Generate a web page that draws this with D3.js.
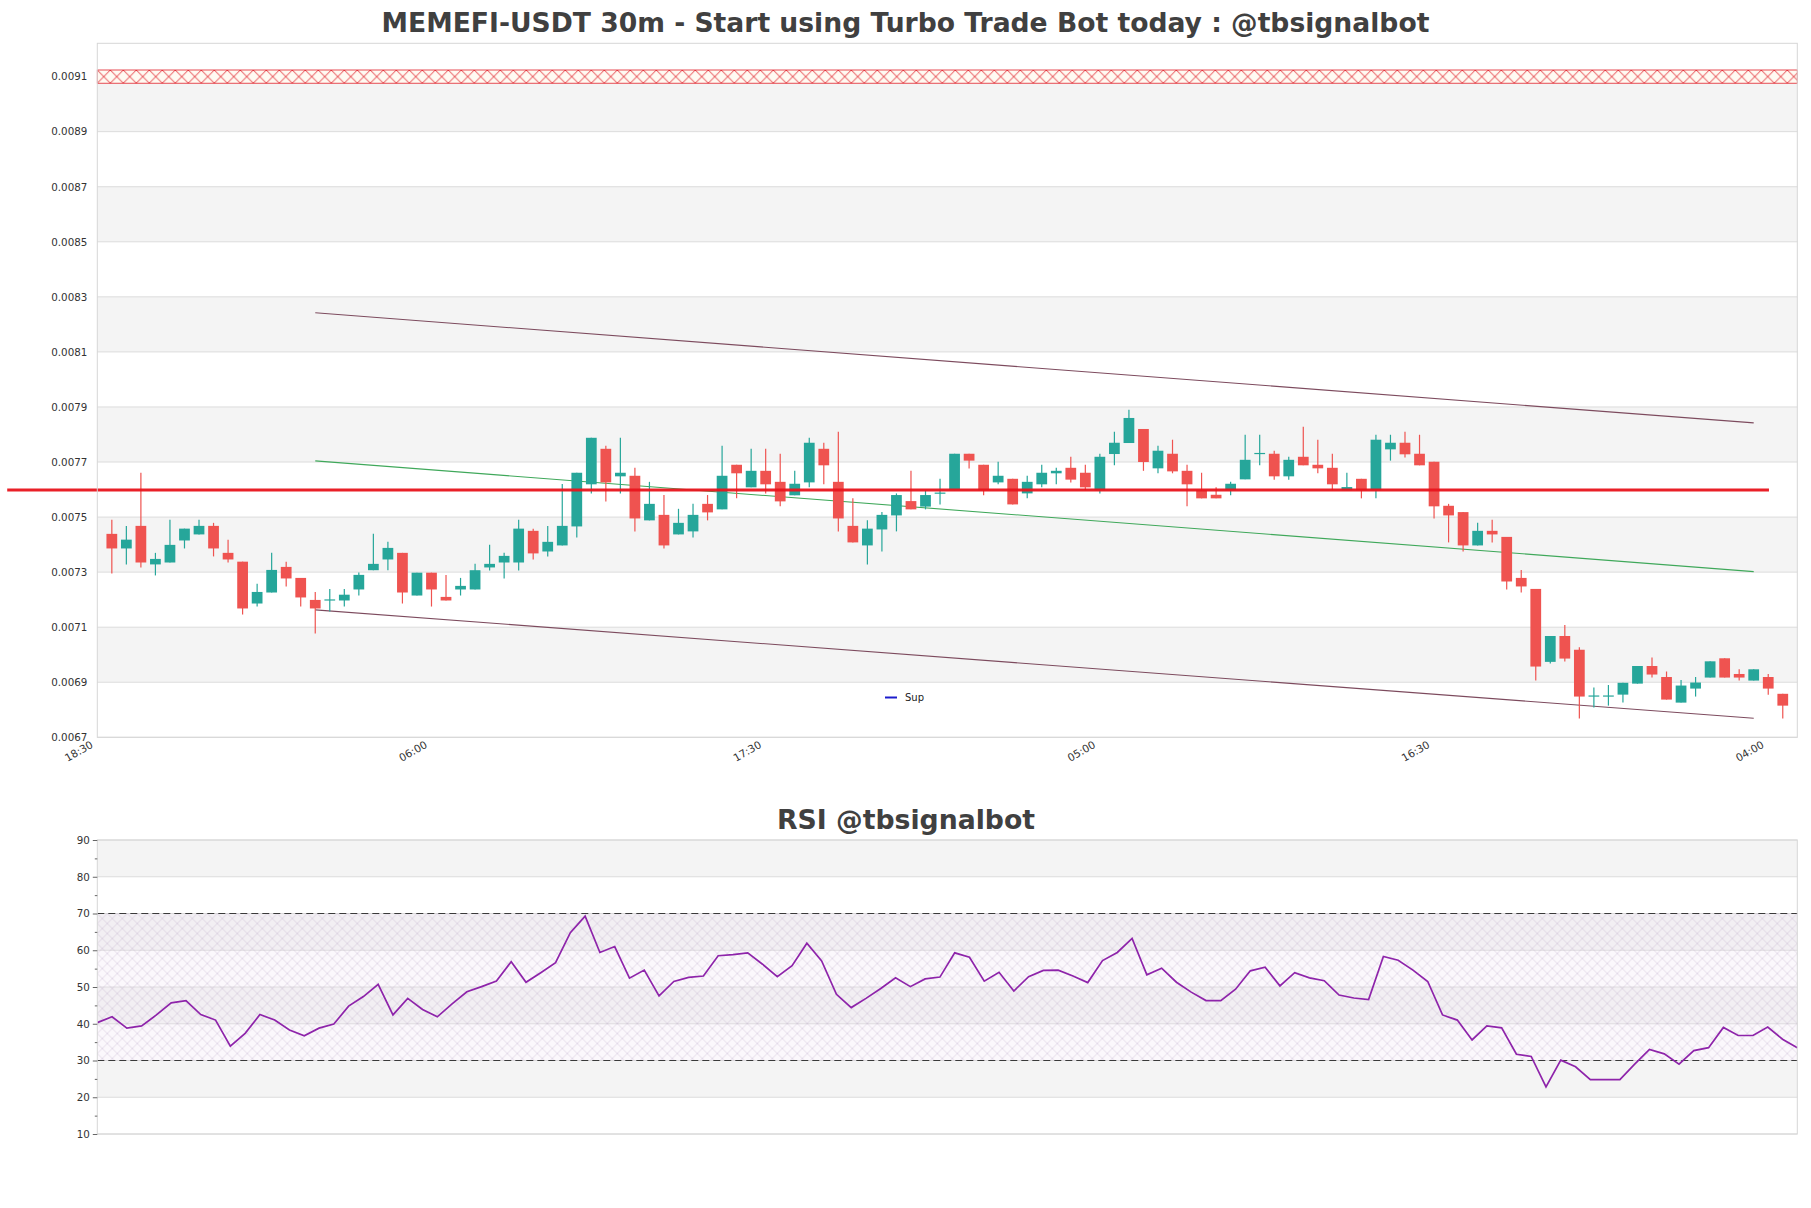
<!DOCTYPE html>
<html>
<head>
<meta charset="utf-8">
<script src="https://cdn.jsdelivr.net/npm/d3@7"></script>
<style>
  body { margin: 0; background: #fff; }
  text { font-family: "DejaVu Sans", sans-serif; }
</style>
</head>
<body>
<svg></svg>
<script>
// candles, 30m, first candle 19:00, last 04:30
const open = [0.007439,0.007386,0.007468,0.007328,0.007335,0.007415,0.007437,0.007468,0.007370,0.007338,
  0.007186,0.007226,0.007319,0.007279,0.007199,0.007199,0.007197,0.007237,0.007307,0.007346,
  0.007370,0.007215,0.007298,0.007210,0.007237,0.007237,0.007317,0.007335,0.007335,0.007450,
  0.007375,0.007397,0.007466,0.007619,0.007748,0.007648,0.007650,0.007488,0.007508,0.007437,
  0.007448,0.007548,0.007528,0.007690,0.007608,0.007668,0.007628,0.007579,0.007626,0.007748,
  0.007628,0.007468,0.007397,0.007455,0.007506,0.007558,0.007538,0.007586,0.007597,0.007730,
  0.007690,0.007626,0.007639,0.007586,0.007619,0.007659,0.007679,0.007661,0.007597,0.007729,
  0.007769,0.007820,0.007677,0.007730,0.007668,0.007597,0.007581,0.007597,0.007637,0.007729,
  0.007730,0.007648,0.007719,0.007690,0.007679,0.007597,0.007639,0.007597,0.007746,0.007770,
  0.007730,0.007701,0.007541,0.007518,0.007397,0.007450,0.007428,0.007279,0.007239,0.006974,
  0.007068,0.007018,0.006848,0.006848,0.006855,0.006895,0.006959,0.006919,0.006826,0.006877,
  0.006917,0.006987,0.006930,0.006906,0.006919,0.006858];
const high = [0.007490,0.007468,0.007661,0.007370,0.007490,0.007458,0.007490,0.007479,0.007418,0.007338,
  0.007258,0.007370,0.007338,0.007279,0.007228,0.007239,0.007239,0.007299,0.007439,0.007410,
  0.007370,0.007298,0.007298,0.007290,0.007279,0.007330,0.007399,0.007370,0.007490,0.007458,
  0.007468,0.007620,0.007661,0.007788,0.007759,0.007788,0.007679,0.007628,0.007580,0.007530,
  0.007548,0.007580,0.007759,0.007690,0.007748,0.007748,0.007730,0.007668,0.007788,0.007770,
  0.007810,0.007568,0.007488,0.007518,0.007586,0.007668,0.007597,0.007639,0.007730,0.007730,
  0.007690,0.007701,0.007639,0.007650,0.007690,0.007679,0.007719,0.007690,0.007730,0.007810,
  0.007890,0.007820,0.007759,0.007781,0.007690,0.007661,0.007608,0.007628,0.007799,0.007799,
  0.007741,0.007719,0.007828,0.007781,0.007730,0.007661,0.007639,0.007799,0.007799,0.007810,
  0.007799,0.007701,0.007548,0.007518,0.007479,0.007490,0.007428,0.007308,0.007239,0.007068,
  0.007108,0.007027,0.006881,0.006890,0.006898,0.006959,0.006990,0.006939,0.006908,0.006919,
  0.006976,0.006987,0.006947,0.006947,0.006930,0.006858];
const low = [0.007295,0.007328,0.007317,0.007288,0.007335,0.007386,0.007437,0.007357,0.007335,0.007146,
  0.007175,0.007226,0.007248,0.007175,0.007077,0.007157,0.007175,0.007215,0.007307,0.007307,
  0.007186,0.007215,0.007175,0.007197,0.007215,0.007237,0.007306,0.007277,0.007306,0.007346,
  0.007357,0.007397,0.007426,0.007586,0.007557,0.007586,0.007448,0.007488,0.007386,0.007437,
  0.007426,0.007488,0.007528,0.007568,0.007608,0.007586,0.007539,0.007579,0.007608,0.007619,
  0.007448,0.007408,0.007328,0.007375,0.007448,0.007528,0.007528,0.007546,0.007597,0.007676,
  0.007579,0.007619,0.007546,0.007568,0.007608,0.007619,0.007626,0.007597,0.007586,0.007688,
  0.007769,0.007668,0.007659,0.007659,0.007539,0.007568,0.007568,0.007579,0.007637,0.007688,
  0.007636,0.007636,0.007688,0.007659,0.007597,0.007597,0.007568,0.007568,0.007705,0.007716,
  0.007688,0.007495,0.007408,0.007375,0.007397,0.007408,0.007237,0.007226,0.006906,0.006968,
  0.006975,0.006768,0.006808,0.006815,0.006826,0.006895,0.006917,0.006837,0.006826,0.006848,
  0.006917,0.006917,0.006906,0.006906,0.006855,0.006768];
const close = [0.007386,0.007418,0.007335,0.007348,0.007399,0.007458,0.007468,0.007386,0.007346,0.007168,
  0.007228,0.007308,0.007277,0.007208,0.007168,0.007201,0.007218,0.007290,0.007330,0.007388,
  0.007226,0.007298,0.007237,0.007197,0.007250,0.007307,0.007330,0.007359,0.007458,0.007368,
  0.007410,0.007468,0.007661,0.007788,0.007626,0.007661,0.007495,0.007548,0.007397,0.007479,
  0.007508,0.007517,0.007650,0.007659,0.007668,0.007619,0.007557,0.007621,0.007770,0.007688,
  0.007495,0.007408,0.007458,0.007508,0.007580,0.007528,0.007580,0.007589,0.007730,0.007705,
  0.007597,0.007650,0.007546,0.007628,0.007661,0.007668,0.007636,0.007608,0.007719,0.007770,
  0.007860,0.007700,0.007741,0.007666,0.007619,0.007568,0.007568,0.007621,0.007708,0.007733,
  0.007648,0.007708,0.007688,0.007677,0.007619,0.007609,0.007597,0.007781,0.007770,0.007728,
  0.007688,0.007539,0.007506,0.007397,0.007450,0.007437,0.007266,0.007248,0.006957,0.007068,
  0.006986,0.006848,0.006852,0.006852,0.006898,0.006959,0.006928,0.006837,0.006888,0.006899,
  0.006976,0.006917,0.006917,0.006947,0.006877,0.006815];

const rsi = [40.3,41.9,38.8,39.4,42.4,45.7,46.3,42.5,41.0,33.9,
  37.4,42.5,41.0,38.3,36.7,38.8,39.9,44.8,47.4,50.7,
  42.4,46.9,43.9,41.9,45.4,48.7,50.1,51.6,56.9,51.3,
  53.9,56.6,64.8,69.3,59.4,61.0,52.4,54.6,47.6,51.5,
  52.6,53.0,58.5,58.8,59.3,56.2,52.8,55.8,61.9,57.1,
  48.0,44.4,46.9,49.6,52.5,50.1,52.2,52.7,59.3,58.1,
  51.6,54.0,48.9,52.8,54.5,54.6,53.0,51.2,57.2,59.4,
  63.2,53.3,55.1,51.3,48.6,46.3,46.3,49.4,54.4,55.4,
  50.3,53.9,52.5,51.7,47.8,47.0,46.6,58.3,57.3,54.6,
  51.5,42.4,41.0,35.6,39.4,38.9,31.7,31.1,22.8,30.1,
  28.3,24.8,24.8,24.8,29.0,33.0,31.8,29.0,32.7,33.5,
  39.0,36.8,36.8,39.1,35.8,33.5];

const timeLabels = ["18:30", "06:00", "17:30", "05:00", "16:30", "04:00"];
const timeTickIndex = [-1, 22, 45, 68, 91, 114];
const priceTicks = [0.0067,0.0069,0.0071,0.0073,0.0075,0.0077,0.0079,0.0081,0.0083,0.0085,0.0087,0.0089,0.0091];
const rsiTicks = [10, 20, 30, 40, 50, 60, 70, 80, 90];
const rsiMinorTicks = [15, 25, 35, 45, 55, 65, 75, 85];

// channel from candle 14 to candle 113
const channelIndex = [14, 113];
const channelUpper = [0.008242, 0.007842];
const channelMid = [0.007704, 0.007302];
const channelLower = [0.007163, 0.006769];
const resistance = 0.007598;
const resistanceSpan = [-7.2, 114.05];
const zoneBand = [0.009076, 0.009124];
const rsiLevels = [30, 70];

const W = 1811, H = 1208;
const green = "#26a69a", red = "#ef5350";

const svg = d3.select("svg").attr("width", W).attr("height", H);
const defs = svg.append("defs");

const x = d3.scaleLinear().domain([-1, 116]).range([97.3, 1797.3]);
const y = d3.scaleLinear().domain([0.0067, 0.009221]).range([737.3, 43.3]);
const xr = d3.scaleLinear().domain([0, rsi.length - 1]).range([97.3, 1797.3]);
const yr = d3.scaleLinear().domain([10, 90]).range([1134, 840]);

// patterns
const zh = y(zoneBand[0]) - y(zoneBand[1]);
const zp = defs.append("pattern").attr("id", "zoneHatch")
  .attr("patternUnits", "userSpaceOnUse")
  .attr("x", x(-1)).attr("y", y(zoneBand[1]))
  .attr("width", 13).attr("height", zh);
zp.append("rect").attr("width", 13).attr("height", zh).attr("fill", "#fffaf2");
zp.append("path")
  .attr("d", `M0,0L13,${zh}M13,0L0,${zh}`)
  .attr("stroke", "#e0202a").attr("stroke-width", 0.9).attr("fill", "none");

const rp = defs.append("pattern").attr("id", "rsiHatch")
  .attr("patternUnits", "userSpaceOnUse")
  .attr("x", xr(0)).attr("y", yr(70))
  .attr("width", 10).attr("height", 10);
rp.append("path").attr("d", "M0,0L10,10M10,0L0,10")
  .attr("stroke", "#b9a6c6").attr("stroke-width", 0.5).attr("stroke-opacity", 0.7).attr("fill", "none");

// ---------- price panel ----------
const main = svg.append("g");

const bandsP = priceTicks.slice(0, -1).map((t, i) => ({ lo: t, hi: priceTicks[i + 1], k: i }));
bandsP.push({ lo: 0.0091, hi: y.domain()[1], k: 12 });
main.selectAll(".band").data(bandsP.filter(d => d.k % 2 === 1)).enter().append("rect")
  .attr("x", x(-1)).attr("width", x(116) - x(-1))
  .attr("y", d => y(d.hi)).attr("height", d => y(d.lo) - y(d.hi))
  .attr("fill", "#f4f4f4");

main.selectAll(".grid").data(priceTicks).enter().append("line")
  .attr("x1", x(-1)).attr("x2", x(116))
  .attr("y1", d => y(d)).attr("y2", d => y(d))
  .attr("stroke", "#dcdcdc").attr("stroke-width", 1);

// red zone
main.append("rect")
  .attr("x", x(-1)).attr("width", x(116) - x(-1))
  .attr("y", y(zoneBand[1])).attr("height", zh)
  .attr("fill", "url(#zoneHatch)").attr("stroke", "#e0202a").attr("stroke-width", 0.8);

// channel
[[channelUpper, "#7d4b5e"], [channelMid, "#3fa85a"], [channelLower, "#7d4b5e"]].forEach(([vals, col]) => {
  main.append("line")
    .attr("x1", x(channelIndex[0])).attr("y1", y(vals[0]))
    .attr("x2", x(channelIndex[1])).attr("y2", y(vals[1]))
    .attr("stroke", col).attr("stroke-width", 1.1);
});

// candles
const candles = open.map((o, i) => ({ i, o, h: high[i], l: low[i], c: close[i] }));
const bw = x(0.37) - x(-0.37);
const cg = main.selectAll(".candle").data(candles).enter().append("g");
cg.append("line")
  .attr("x1", d => x(d.i)).attr("x2", d => x(d.i))
  .attr("y1", d => y(d.h)).attr("y2", d => y(d.l))
  .attr("stroke", d => d.c >= d.o ? green : red).attr("stroke-width", 1.2);
cg.append("rect")
  .attr("x", d => x(d.i) - bw / 2).attr("width", bw)
  .attr("y", d => y(Math.max(d.o, d.c)))
  .attr("height", d => Math.max(1.2, Math.abs(y(d.o) - y(d.c))))
  .attr("fill", d => d.c >= d.o ? green : red);

// resistance line
main.append("line")
  .attr("x1", x(resistanceSpan[0])).attr("x2", x(resistanceSpan[1]))
  .attr("y1", y(resistance)).attr("y2", y(resistance))
  .attr("stroke", "#e8141c").attr("stroke-width", 3).attr("stroke-opacity", 0.95);

// frame
main.append("rect")
  .attr("x", x(-1)).attr("y", y.range()[1])
  .attr("width", x(116) - x(-1)).attr("height", y.range()[0] - y.range()[1])
  .attr("fill", "none").attr("stroke", "#d6d6d6");

// axes
const ya = main.append("g").attr("transform", `translate(${x(-1)},0)`)
  .call(d3.axisLeft(y).tickValues(priceTicks).tickFormat(d3.format(".4f")).tickSize(0).tickPadding(10));
ya.select(".domain").remove();
ya.selectAll("text").attr("font-size", 10.3).attr("fill", "#333").attr("font-family", "DejaVu Sans");

const xa = main.append("g").attr("transform", `translate(0,${y.range()[0]})`)
  .call(d3.axisBottom(x).tickValues(timeTickIndex).tickFormat((d, i) => timeLabels[i]).tickSize(0));
xa.select(".domain").remove();
xa.selectAll("text")
  .attr("x", 0).attr("y", 0).attr("dy", 0)
  .attr("text-anchor", "end")
  .attr("transform", "translate(-4,9.5) rotate(-30)")
  .attr("font-size", 10.5).attr("fill", "#333").attr("font-family", "DejaVu Sans");

// legend
const lg = main.append("g");
lg.append("line").attr("x1", 885).attr("x2", 897).attr("y1", 697.5).attr("y2", 697.5)
  .attr("stroke", "#1c1ccc").attr("stroke-width", 2);
lg.append("text").attr("x", 905).attr("y", 701).attr("font-size", 10).attr("fill", "#222").text("Sup");

svg.append("text").attr("x", 905.5).attr("y", 32).attr("text-anchor", "middle")
  .attr("font-size", 26.6).attr("font-weight", "bold").attr("fill", "#404040")
  .text("MEMEFI-USDT 30m - Start using Turbo Trade Bot today : @tbsignalbot");

// ---------- RSI panel ----------
const rg = svg.append("g");
const bandsR = rsiTicks.slice(0, -1).map((t, i) => ({ lo: t, hi: rsiTicks[i + 1], k: i }));
rg.selectAll(".band").data(bandsR.filter(d => d.k % 2 === 1)).enter().append("rect")
  .attr("x", xr(0)).attr("width", xr(rsi.length - 1) - xr(0))
  .attr("y", d => yr(d.hi)).attr("height", d => yr(d.lo) - yr(d.hi))
  .attr("fill", "#f4f4f4");
rg.selectAll(".grid").data(rsiTicks).enter().append("line")
  .attr("x1", xr(0)).attr("x2", xr(rsi.length - 1))
  .attr("y1", d => yr(d)).attr("y2", d => yr(d))
  .attr("stroke", "#dcdcdc");

rg.append("rect")
  .attr("x", xr(0)).attr("width", xr(rsi.length - 1) - xr(0))
  .attr("y", yr(rsiLevels[1])).attr("height", yr(rsiLevels[0]) - yr(rsiLevels[1]))
  .attr("fill", "#e8d8f0").attr("fill-opacity", 0.18);
rg.append("rect")
  .attr("x", xr(0)).attr("width", xr(rsi.length - 1) - xr(0))
  .attr("y", yr(rsiLevels[1])).attr("height", yr(rsiLevels[0]) - yr(rsiLevels[1]))
  .attr("fill", "url(#rsiHatch)");

rg.selectAll(".lvl").data(rsiLevels).enter().append("line")
  .attr("x1", xr(0)).attr("x2", xr(rsi.length - 1))
  .attr("y1", d => yr(d)).attr("y2", d => yr(d))
  .attr("stroke", "#3a3a3a").attr("stroke-width", 1.2).attr("stroke-dasharray", "7,4");

rg.append("path").datum(rsi)
  .attr("d", d3.line().x((d, i) => xr(i)).y(d => yr(d)))
  .attr("fill", "none").attr("stroke", "#8e24aa").attr("stroke-width", 1.7);

rg.append("rect")
  .attr("x", xr(0)).attr("y", yr(90))
  .attr("width", xr(rsi.length - 1) - xr(0)).attr("height", yr(10) - yr(90))
  .attr("fill", "none").attr("stroke", "#d6d6d6");

const ra = rg.append("g").attr("transform", `translate(${xr(0)},0)`)
  .call(d3.axisLeft(yr).tickValues(rsiTicks).tickSize(4.5).tickPadding(3));
ra.select(".domain").remove();
ra.selectAll("line").attr("stroke", "#666");
ra.selectAll("text").attr("font-size", 10.3).attr("fill", "#333").attr("font-family", "DejaVu Sans");
const rm = rg.append("g").attr("transform", `translate(${xr(0)},0)`)
  .call(d3.axisLeft(yr).tickValues(rsiMinorTicks).tickSize(2.5).tickFormat(""));
rm.select(".domain").remove();
rm.selectAll("line").attr("stroke", "#666");

svg.append("text").attr("x", 906).attr("y", 829).attr("text-anchor", "middle")
  .attr("font-size", 26.7).attr("font-weight", "bold").attr("fill", "#404040")
  .text("RSI @tbsignalbot");
</script>
</body>
</html>
